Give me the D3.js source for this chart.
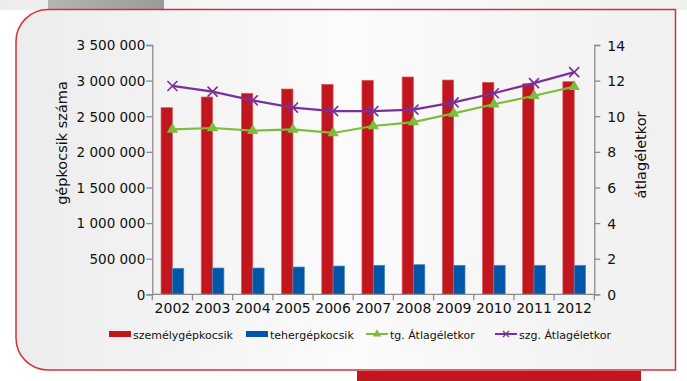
<!DOCTYPE html>
<html><head><meta charset="utf-8">
<script src="https://cdn.jsdelivr.net/npm/d3@7"></script>
<style>body{margin:0;background:#fff}svg{display:block}text{font-family:"DejaVu Sans",sans-serif;fill:#111}</style>
</head><body><svg id="c" width="687" height="381"></svg>
<script>
const years = ["2002","2003","2004","2005","2006","2007","2008","2009","2010","2011","2012"];
const szemely = [2620000,2770000,2822000,2882000,2948000,3004000,3051000,3008000,2976000,2957000,2985000];
const teher = [365000,369000,369000,383000,397000,407000,416000,407000,407000,407000,407000];
const tgAtlag = [9.26,9.34,9.19,9.26,9.06,9.45,9.67,10.16,10.67,11.15,11.66];
const szgAtlag = [11.70,11.38,10.89,10.48,10.29,10.29,10.37,10.78,11.29,11.86,12.48];
const leftTicks = [0,500000,1000000,1500000,2000000,2500000,3000000,3500000];
const rightTicks = [0,2,4,6,8,10,12,14];
const seriesNames = ["személygépkocsik","tehergépkocsik","tg. Átlagéletkor","szg. Átlagéletkor"];

const svg = d3.select("#c");
const defs = svg.append("defs");
const g1 = defs.append("linearGradient").attr("id","bg").attr("x1","0").attr("x2","1").attr("y1","0").attr("y2","0");
g1.append("stop").attr("offset","0").attr("stop-color","#ececec");
g1.append("stop").attr("offset","0.5").attr("stop-color","#fbfbfb");
g1.append("stop").attr("offset","1").attr("stop-color","#f0f0f0");
const g2 = defs.append("linearGradient").attr("id","tab").attr("x1","0").attr("x2","1");
g2.append("stop").attr("offset","0").attr("stop-color","#b4b4b4");
g2.append("stop").attr("offset","1").attr("stop-color","#9a9a9a");

svg.append("rect").attr("x",0).attr("y",0).attr("width",687).attr("height",10).attr("fill","url(#bg)");
svg.append("rect").attr("x",48).attr("y",0).attr("width",116).attr("height",10).attr("fill","url(#tab)");
const L=16,T=9.5,R=675.5,B=370, r=32;
svg.append("path")
  .attr("d",`M${L+r},${T} H${R} V${B} H${L+r} A${r},${r} 0 0 1 ${L},${B-r} V${T+r} A${r},${r} 0 0 1 ${L+r},${T} Z`)
  .attr("fill","url(#bg)").attr("stroke","#d2323a").attr("stroke-width",1.5);
svg.append("rect").attr("x",357).attr("y",371).attr("width",284).attr("height",10).attr("fill","#c1161e");

const x0 = 152.3, x1 = 594.3, yTop = 45, yBot = 294.3;
const x = d3.scaleBand().domain(years).range([x0,x1]).paddingInner(0.435).paddingOuter(0.2175);
const xs = d3.scaleBand().domain(["a","b"]).range([0,x.bandwidth()]);
const yL = d3.scaleLinear().domain([0,3500000]).range([yBot,yTop]);
const yR = d3.scaleLinear().domain([0,14]).range([yBot,yTop]);
const fmt = v => d3.format(",")(v).replace(/,/g," ");

const axL = svg.append("g").attr("transform",`translate(${x0},0)`)
  .call(d3.axisLeft(yL).tickValues(leftTicks).tickFormat(fmt).tickSize(6).tickPadding(1));
const axR = svg.append("g").attr("transform",`translate(${x1},0)`)
  .call(d3.axisRight(yR).tickValues(rightTicks).tickSize(6).tickPadding(7));
[axL,axR].forEach(a=>{a.select(".domain").attr("stroke","#8c8c8c").attr("stroke-width",1.3);
  a.selectAll(".tick line").attr("stroke","#8c8c8c").attr("stroke-width",1.3);
  a.selectAll("text").attr("font-size",13.5).attr("fill","#111").style("font-family","DejaVu Sans");});
axL.selectAll("text").attr("dy","0.36em");
axR.selectAll("text").attr("dy","0.36em").attr("font-size",14);

const grp = svg.append("g");
years.forEach((yr,i)=>{
  grp.append("rect").attr("x",x(yr)+xs("a")).attr("y",yL(szemely[i])).attr("width",xs.bandwidth())
    .attr("height",yBot-yL(szemely[i])).attr("fill","#c1161e").attr("stroke","#d95a5f").attr("stroke-width",0.7);
  grp.append("rect").attr("x",x(yr)+xs("b")).attr("y",yL(teher[i])).attr("width",xs.bandwidth())
    .attr("height",yBot-yL(teher[i])).attr("fill","#0057a8").attr("stroke","#4d86c2").attr("stroke-width",0.7);
});

const step = x.step(), off = (step - x.bandwidth())/2;
svg.append("line").attr("x1",x0).attr("x2",x1).attr("y1",yBot).attr("y2",yBot).attr("stroke","#8c8c8c").attr("stroke-width",1.3);
years.forEach(yr=>{
  const bx = x(yr)-off;
  svg.append("line").attr("x1",bx).attr("x2",bx).attr("y1",yBot).attr("y2",yBot+6).attr("stroke","#8c8c8c").attr("stroke-width",1.3);
  svg.append("text").attr("x",x(yr)+x.bandwidth()/2).attr("y",yBot+19).attr("text-anchor","middle").attr("font-size",14).text(yr);
});
svg.append("line").attr("x1",x1).attr("x2",x1).attr("y1",yBot).attr("y2",yBot+6).attr("stroke","#8c8c8c").attr("stroke-width",1.3);

const cx = yr => x(yr)+x.bandwidth()/2;
const lineG = d3.line().x((d,i)=>cx(years[i])).y(d=>yR(d));
svg.append("path").attr("d",lineG(tgAtlag)).attr("fill","none").attr("stroke","#7dbd3c").attr("stroke-width",2.2);
svg.append("path").attr("d",lineG(szgAtlag)).attr("fill","none").attr("stroke","#7b2f9b").attr("stroke-width",2.2);
const tri = d3.symbol().type(d3.symbolTriangle).size(55);
tgAtlag.forEach((v,i)=>svg.append("path").attr("d",tri()).attr("transform",`translate(${cx(years[i])},${yR(v)})`).attr("fill","#7dbd3c"));
szgAtlag.forEach((v,i)=>{
  const px=cx(years[i]), py=yR(v), s=5;
  svg.append("path").attr("d",`M${px-s},${py-s}L${px+s},${py+s}M${px-s},${py+s}L${px+s},${py-s}`).attr("stroke","#7b2f9b").attr("stroke-width",1.6);
});

svg.append("text").attr("transform","translate(67,143) rotate(-90)").attr("text-anchor","middle").attr("font-size",14.5).text("gépkocsik száma");
svg.append("text").attr("transform","translate(646,155) rotate(-90)").attr("text-anchor","middle").attr("font-size",14.5).text("átlagéletkor");

const ly = 334;
const items = [
  {x:109,type:"bar",color:"#c1161e"},
  {x:246,type:"bar",color:"#0057a8"},
  {x:366,type:"tri",color:"#7dbd3c"},
  {x:495,type:"x",color:"#7b2f9b"}];
items.forEach((it,i)=>{
  if(it.type==="bar") svg.append("rect").attr("x",it.x).attr("y",ly-3).attr("width",22).attr("height",6).attr("fill",it.color);
  else {
    svg.append("line").attr("x1",it.x).attr("x2",it.x+22).attr("y1",ly).attr("y2",ly).attr("stroke",it.color).attr("stroke-width",2);
    if(it.type==="tri") svg.append("path").attr("d",d3.symbol().type(d3.symbolTriangle).size(30)()).attr("transform",`translate(${it.x+11},${ly})`).attr("fill",it.color);
    else svg.append("path").attr("d",`M${it.x+8},${ly-3}L${it.x+14},${ly+3}M${it.x+8},${ly+3}L${it.x+14},${ly-3}`).attr("stroke",it.color).attr("stroke-width",1.3);
  }
  svg.append("text").attr("x",it.x+24).attr("y",ly+4.5).attr("font-size",11).text(seriesNames[i]);
});
</script></body></html>
